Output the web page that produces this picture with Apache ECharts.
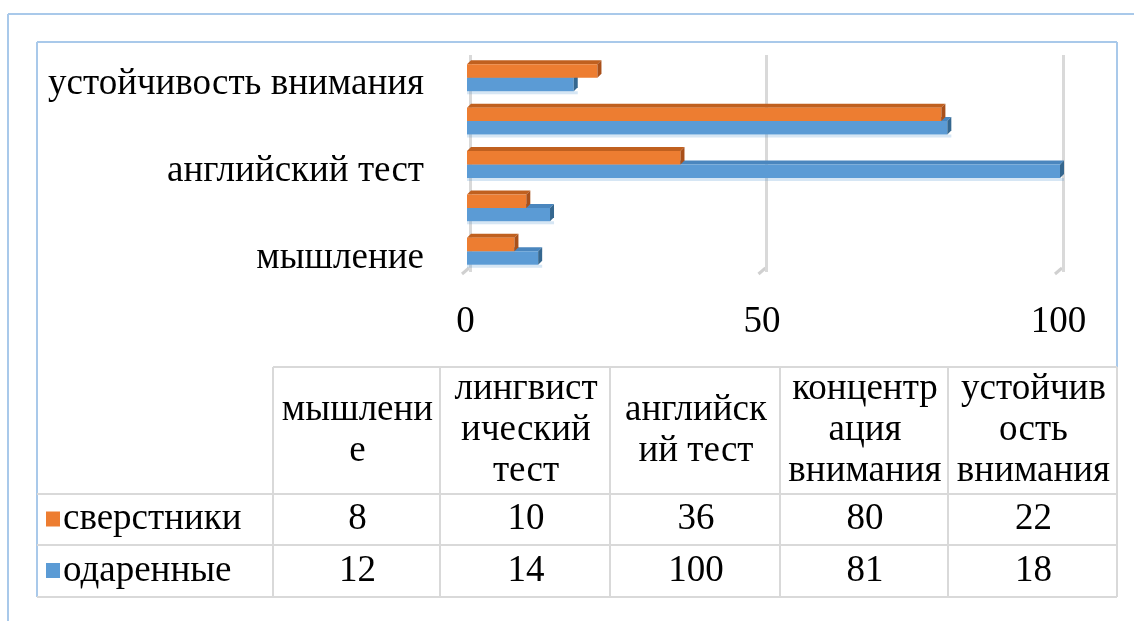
<!DOCTYPE html>
<html>
<head>
<meta charset="utf-8">
<script src="https://cdn.jsdelivr.net/npm/echarts@6/dist/echarts.min.js"></script>
<style>
  html, body { margin: 0; padding: 0; background: #fff; }
  #chart { width: 1134px; height: 621px; }
</style>
</head>
<body>
<div id="chart"></div>
<script>
// Categories, bottom to top on the bar axis
const categories = ['мышление', 'лингвистический тест', 'английский тест', 'концентрация внимания', 'устойчивость внимания'];
// Column headers of the data table (wrapped as in the table)
const tableHeaders = ['мышлени\nе', 'лингвист\nический\nтест', 'английск\nий тест', 'концентр\nация\nвнимания', 'устойчив\nость\nвнимания'];
const seriesNames = ['сверстники', 'одаренные'];
const peers = [8, 10, 36, 80, 22];
const gifted = [12, 14, 100, 81, 18];
const xTicks = [0, 50, 100];

const ORANGE = '#ED7D31', ORANGE_DARK = '#A9501A', ORANGE_TOP = '#C0601F';
const BLUE = '#5B9BD5', BLUE_DARK = '#35678F', BLUE_TOP = '#4A86BE';
const FONT = 'Liberation Serif';
const FS = 37;

// 3D-looking horizontal bar; upper=true places it in the upper half of the pair
function bar3d(upper, face, top, side) {
  return function (params, api) {
    const cat = api.value(1);
    const val = api.value(0);
    const end = api.coord([val, cat]);
    const start = api.coord([0, cat]);
    const band = api.size([0, 1])[1];
    const h = band * 0.31;
    const d = 4;
    const x0 = start[0] - 3;
    const x1 = end[0] - 3;
    const yt = upper ? end[1] - h + 1 : end[1] + 1;
    const children = [];
    if (!upper) {
      children.push({
        type: 'rect',
        shape: { x: x0, y: yt + h, width: x1 - x0 + d, height: 3 },
        style: { fill: 'rgba(91,155,213,0.25)' }
      });
    }
    children.push({
      type: 'polygon',
      shape: { points: [[x0, yt], [x0 + d, yt - d], [x1 + d, yt - d], [x1, yt]] },
      style: { fill: top }
    });
    children.push({
      type: 'rect',
      shape: { x: x0, y: yt, width: x1 - x0, height: h },
      style: { fill: face }
    });
    children.push({
      type: 'polygon',
      shape: { points: [[x1, yt], [x1 + d, yt - d], [x1 + d, yt + h - d], [x1, yt + h]] },
      style: { fill: side }
    });
    return { type: 'group', children: children };
  };
}

// Data table built from the arrays above
const colX = [273, 440, 610, 780, 948, 1117];
const rowY = [367, 494, 545, 597];
const LEFT = 37, RIGHT = 1117;
const gridColor = '#D9D9D9';
const graphics = [];

function line(x1, y1, x2, y2, color, w) {
  graphics.push({ type: 'line', shape: { x1, y1, x2, y2 }, style: { stroke: color, lineWidth: w }, silent: true });
}
// frames
line(8, 14, 1134, 14, '#A9C9EA', 2);
line(8, 14, 8, 621, '#A9C9EA', 2);
line(LEFT, 42, RIGHT, 42, '#A9C9EA', 2);
line(LEFT, 42, LEFT, rowY[3], '#A9C9EA', 2);
line(RIGHT, 42, RIGHT, rowY[0], '#A9C9EA', 2);
// table grid
line(colX[0], rowY[0], RIGHT, rowY[0], gridColor, 2);
for (let r = 1; r < rowY.length; r++) line(LEFT, rowY[r], RIGHT, rowY[r], gridColor, 2);
for (let c = 0; c < colX.length; c++) line(colX[c], rowY[0], colX[c], rowY[3], gridColor, 2);

const cellText = (s, x, y) => ({
  type: 'text', x, y,
  style: { text: s, fontFamily: FONT, fontSize: FS, fill: '#000', align: 'center', verticalAlign: 'middle', lineHeight: 41 },
  silent: true
});
for (let c = 0; c < tableHeaders.length; c++) {
  const cx = (colX[c] + colX[c + 1]) / 2 + 1;
  graphics.push(cellText(tableHeaders[c], cx, (rowY[0] + rowY[1]) / 2));
  graphics.push(cellText(String(peers[c]), cx, (rowY[1] + rowY[2]) / 2));
  graphics.push(cellText(String(gifted[c]), cx, (rowY[2] + rowY[3]) / 2));
}
// legend keys inside the table
[[seriesNames[0], ORANGE, 1], [seriesNames[1], BLUE, 2]].forEach(([name, color, r]) => {
  const cy = (rowY[r] + rowY[r + 1]) / 2;
  graphics.push({ type: 'rect', shape: { x: 46, y: cy - 8, width: 14, height: 15 }, style: { fill: color }, silent: true });
  graphics.push({
    type: 'text', x: 63, y: cy,
    style: { text: name, fontFamily: FONT, fontSize: FS, fill: '#000', align: 'left', verticalAlign: 'middle' },
    silent: true
  });
});

const chart = echarts.init(document.getElementById('chart'));
chart.setOption({
  animation: false,
  backgroundColor: '#fff',
  textStyle: { fontFamily: FONT },
  grid: { left: 470, right: 71, top: 55, bottom: 349 },
  xAxis: {
    type: 'value', min: xTicks[0], max: xTicks[xTicks.length - 1], interval: 50,
    axisLine: { show: false }, axisTick: { show: false },
    axisLabel: { fontFamily: FONT, fontSize: FS, color: '#000', margin: 32, padding: [0, 9, 0, 0] },
    splitLine: { lineStyle: { color: '#D9D9D9', width: 3 } }
  },
  yAxis: {
    type: 'category', data: categories,
    axisLine: { show: false }, axisTick: { show: false },
    axisLabel: { interval: 1, fontFamily: FONT, fontSize: FS, color: '#000', margin: 46, verticalAlign: 'top', lineHeight: 16 }
  },
  series: [
    {
      type: 'custom', name: seriesNames[1],
      data: gifted.map((v, i) => [v, i]),
      encode: { x: 0, y: 1 },
      renderItem: bar3d(false, BLUE, BLUE_TOP, BLUE_DARK)
    },
    {
      type: 'custom', name: seriesNames[0],
      data: peers.map((v, i) => [v, i]),
      encode: { x: 0, y: 1 },
      renderItem: bar3d(true, ORANGE, ORANGE_TOP, ORANGE_DARK)
    }
  ],
  graphic: graphics
});

// slanted feet under the gridlines, placed with the value axis scale
const feet = xTicks.map((t) => {
  const x = chart.convertToPixel({ xAxisIndex: 0 }, t);
  return { type: 'line', shape: { x1: x - 8, y1: 274, x2: x - 1, y2: 268 }, style: { stroke: '#D0D0D0', lineWidth: 3 }, silent: true };
});
chart.setOption({ graphic: graphics.concat(feet) });
</script>
</body>
</html>
